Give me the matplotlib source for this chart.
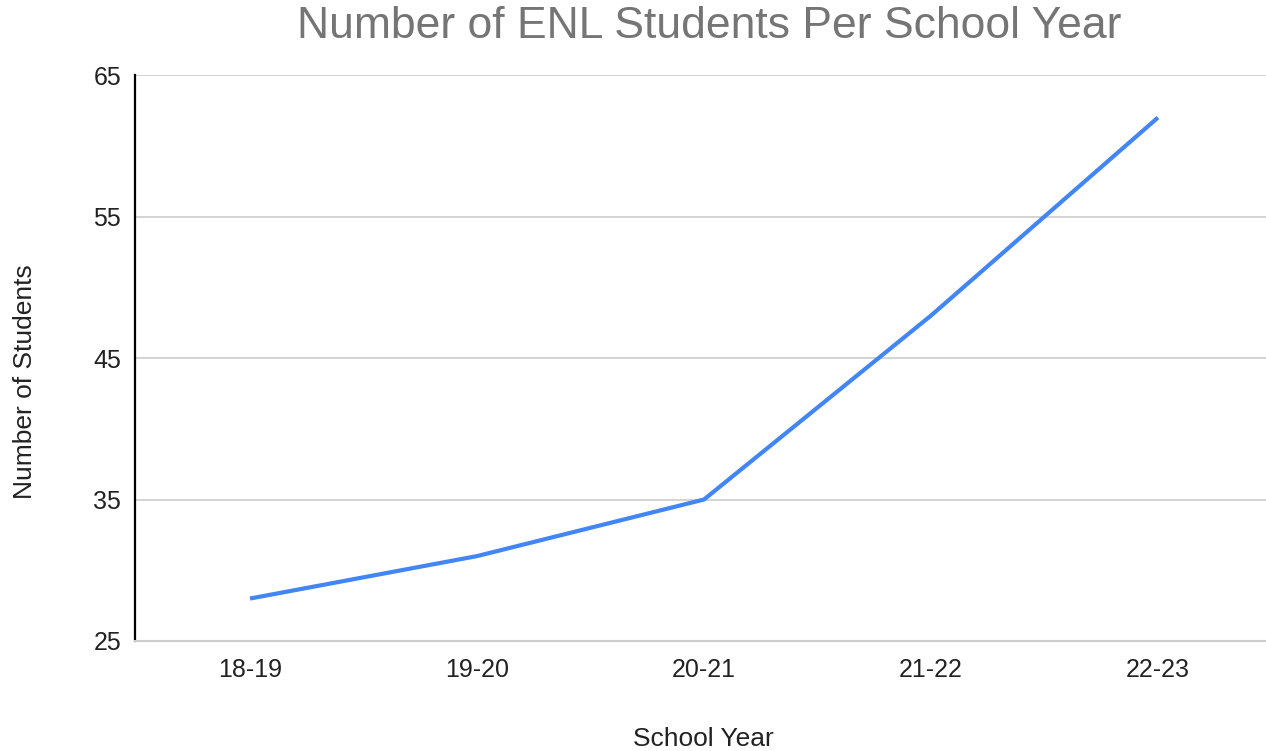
import matplotlib
matplotlib.use('Agg')
import matplotlib.pyplot as plt

# ── DATA ──────────────────────────────────────────────────────
school_years = ['18-19', '19-20', '20-21', '21-22', '22-23']
students     = [28, 31, 35, 48, 62]
y_ticks      = [25, 35, 45, 55, 65]

plt.rcParams['font.family'] = ['Liberation Sans', 'DejaVu Sans']

fig = plt.figure(figsize=(12.66, 7.51), dpi=100)
ax = fig.add_axes([0.1066, 0.1465, 0.8934, 0.7535])

x = list(range(len(school_years)))
ax.plot(x, students, color='#4285F4', lw=3, solid_capstyle='butt', zorder=3)

ax.set_xlim(-0.507, 4.476)
ax.set_ylim(25, 65)
ax.set_yticks(y_ticks)
ax.set_xticks(x)
ax.set_xticklabels(school_years)

ax.grid(axis='y', color='#cccccc', lw=1.2)
ax.set_axisbelow(True)
for side in ['top', 'right']:
    ax.spines[side].set_visible(False)
ax.spines['bottom'].set_color('#cccccc')
ax.spines['bottom'].set_linewidth(1.5)
ax.spines['left'].set_color('#000000')
ax.spines['left'].set_linewidth(1.6)

ax.tick_params(axis='both', length=0, labelsize=18, colors='#222222')
ax.tick_params(axis='y', pad=10)
ax.tick_params(axis='x', pad=12)

ax.set_xlabel('School Year', fontsize=19, color='#222222')
ax.set_ylabel('Number of Students', fontsize=19, color='#222222')
ax.xaxis.set_label_coords(0.503, -0.152)
ax.yaxis.set_label_coords(-0.087, 0.459)

fig.text(0.56, 0.965, 'Number of ENL Students Per School Year',
         ha='center', va='center', fontsize=32, color='#757575')

fig.savefig('out.png', dpi=100)
